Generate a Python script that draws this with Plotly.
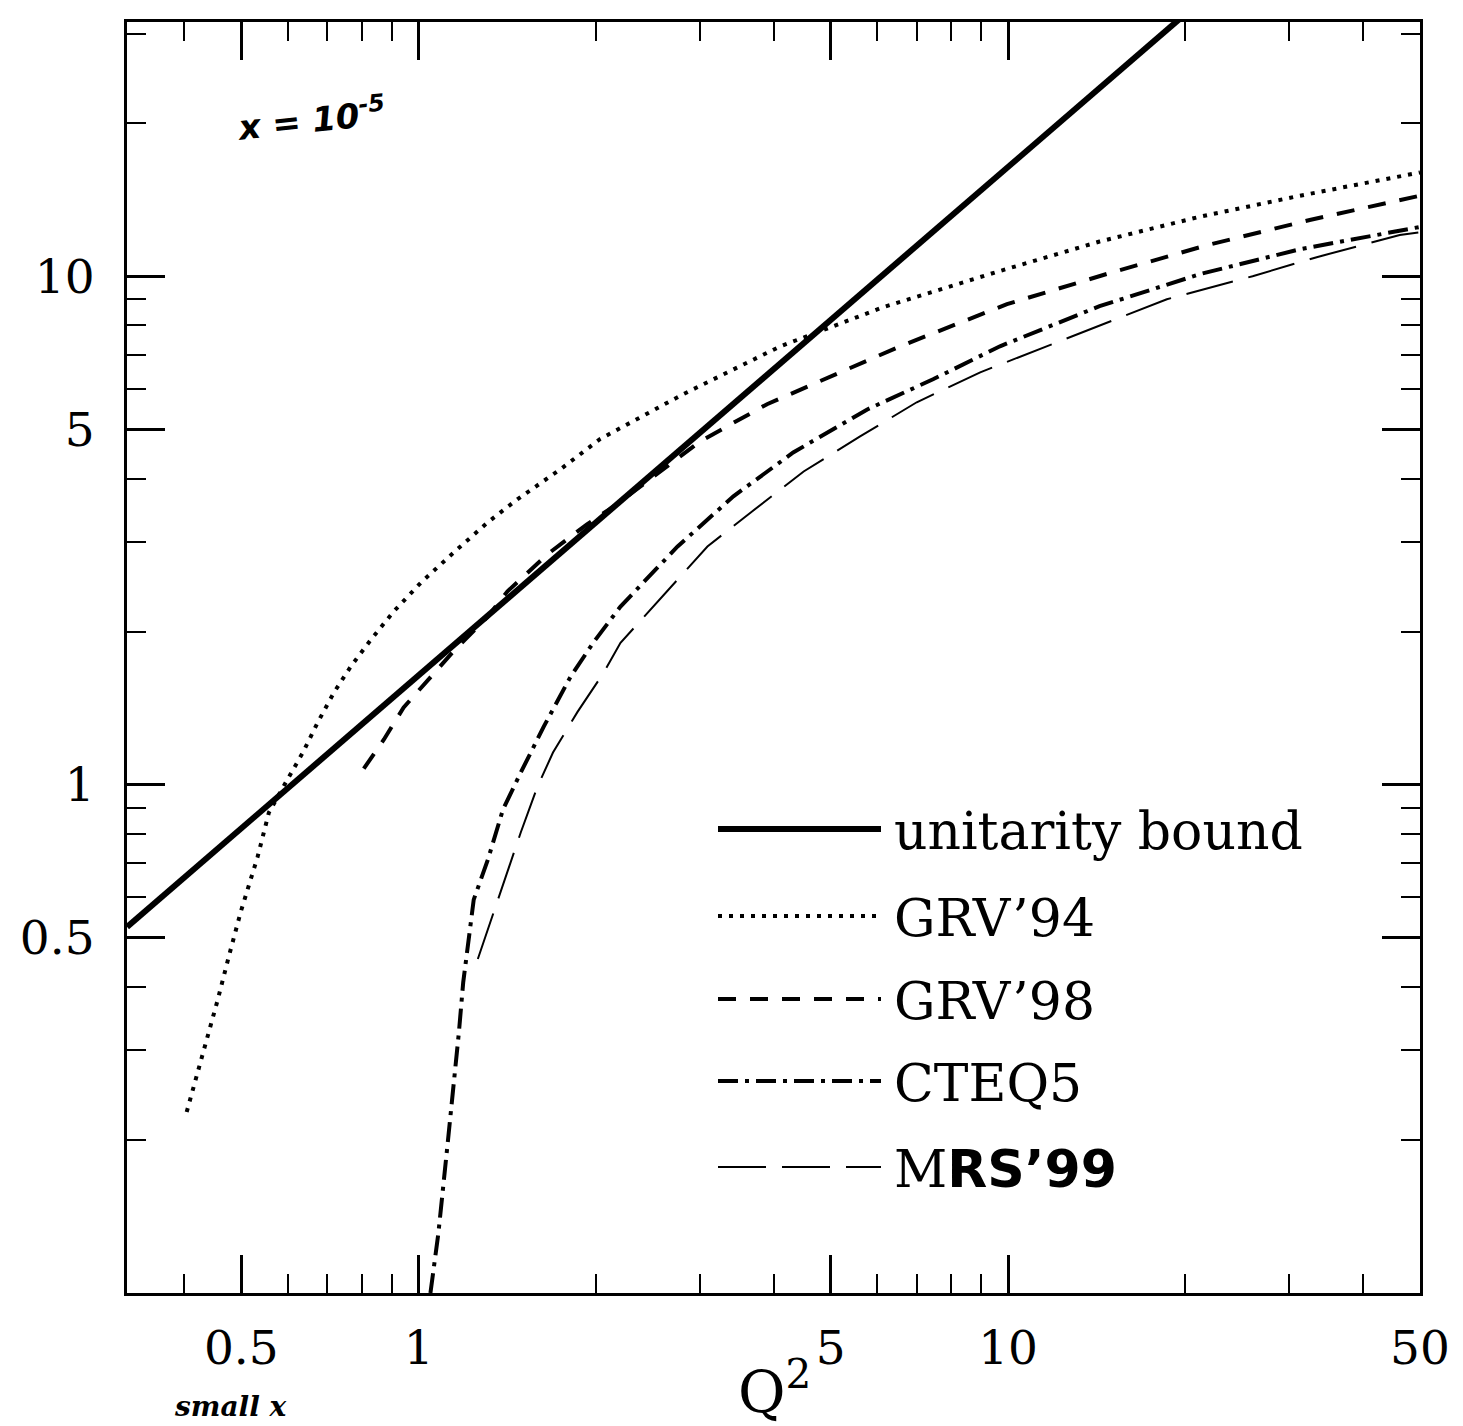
import plotly.graph_objects as go

# ---------------- data ----------------
unit_q2 = [0.32, 20.0]
unit_y = [0.525, 32.8]

grv94_q2 = [0.404, 0.43, 0.456, 0.476, 0.499, 0.533, 0.557, 0.595, 0.636, 0.674,
            0.718, 0.767, 0.83, 0.907, 1.01, 1.146, 1.31, 1.47, 1.74, 2.03, 2.81,
            4.11, 6.14, 9.58, 14.3, 21.2, 31.3, 50.0]
grv94_y = [0.227, 0.294, 0.377, 0.458, 0.562, 0.721, 0.881, 1.01, 1.156, 1.325,
           1.517, 1.707, 1.929, 2.19, 2.50, 2.86, 3.28, 3.64, 4.17, 4.78, 5.86,
           7.28, 8.69, 10.2, 11.7, 13.1, 14.4, 16.0]

grv98_q2 = [0.807, 0.873, 0.943, 1.048, 1.146, 1.31, 1.415, 1.655, 1.93, 2.17,
            3.0, 3.9, 5.19, 6.56, 9.96, 14.7, 21.7, 32.5, 50.0]
grv98_y = [1.075, 1.227, 1.418, 1.63, 1.83, 2.14, 2.40, 2.84, 3.25, 3.56,
           4.73, 5.6, 6.47, 7.28, 8.81, 10.1, 11.5, 12.9, 14.4]

cteq5_q2 = [1.047, 1.08, 1.12, 1.147, 1.17, 1.19, 1.216, 1.24, 1.31, 1.39, 1.49,
            1.63, 1.81, 1.98, 2.2, 2.75, 3.42, 4.32, 5.77, 7.46, 9.69, 14.3,
            21.2, 31.3, 50.0]
cteq5_y = [0.1, 0.131, 0.197, 0.255, 0.325, 0.408, 0.489, 0.594, 0.711, 0.893,
           1.056, 1.30, 1.63, 1.905, 2.24, 2.94, 3.69, 4.5, 5.47, 6.27, 7.28,
           8.73, 10.1, 11.3, 12.5]

mrs99_q2 = [1.26, 1.34, 1.49, 1.59, 1.69, 1.86, 2.06, 2.2, 3.09, 3.66, 4.5, 5.61,
            7.0, 8.97, 12.25, 18.6, 26.0, 33.4, 46.2, 50.0]
mrs99_y = [0.454, 0.56, 0.805, 0.99, 1.156, 1.39, 1.66, 1.90, 2.94, 3.43, 4.13,
           4.84, 5.65, 6.47, 7.45, 9.01, 10.0, 10.9, 12.05, 12.2]

x_major = [0.5, 1, 5, 10, 50]
x_major_text = ["0.5", "1", "5", "10", "50"]
x_minor = [0.4, 0.6, 0.7, 0.8, 0.9, 2, 3, 4, 6, 7, 8, 9, 20, 30, 40]
y_major = [0.5, 1, 5, 10]
y_major_text = ["0.5", "1", "5", "10"]
y_minor = [0.2, 0.3, 0.4, 0.6, 0.7, 0.8, 0.9, 2, 3, 4, 6, 7, 8, 9, 20, 30]

legend_names = ["unitarity bound", "GRV’94", "GRV’98", "CTEQ5",
                'M<span style="font-family:\'DejaVu Sans\';font-weight:bold">RS’99</span>']

# ---------------- styles ----------------
styles = [
    dict(width=6, dash="solid"),
    dict(width=4, dash="4px,7px"),
    dict(width=4, dash="18px,14px"),
    dict(width=4, dash="20px,7px,4px,7px"),
    dict(width=2, dash="48px,16px"),
]
series = [(unit_q2, unit_y), (grv94_q2, grv94_y), (grv98_q2, grv98_y),
          (cteq5_q2, cteq5_y), (mrs99_q2, mrs99_y)]

fig = go.Figure()
for (xs, ys), st, nm in zip(series, styles, legend_names):
    fig.add_trace(go.Scatter(x=xs, y=ys, mode="lines", name=nm, showlegend=False,
                             line=dict(color="black", width=st["width"], dash=st["dash"])))

OFF = 8  # page body margin
W, H = 1463 - OFF, 1426 - OFF
ml, mt = 127 - OFF, 22 - OFF
mr = W - (1420 - OFF)
mb = H - (1293 - OFF)
pw, ph = W - ml - mr, H - mt - mb

def px2paper(px, py):
    # page pixel -> paper coordinates
    return (px - OFF - ml) / pw, (H - mb - (py - OFF)) / ph

# legend drawn manually (long sample lines)
rows_py = [829, 916, 999, 1081, 1167]
shapes = []
annotations = []
for py, st, nm in zip(rows_py, styles, legend_names):
    x0, y0 = px2paper(718, py)
    x1, _ = px2paper(881, py)
    shapes.append(dict(type="line", xref="paper", yref="paper", x0=x0, x1=x1, y0=y0, y1=y0,
                       line=dict(color="black", width=st["width"], dash=st["dash"])))
    tx, ty = px2paper(892, py + 2)
    annotations.append(dict(xref="paper", yref="paper", x=tx, y=ty, text=nm, showarrow=False,
                            xanchor="left", yanchor="middle",
                            font=dict(family="DejaVu Serif", size=52, color="black")))

# axis title and handwritten notes
qx, qy = px2paper(736, 1388)
annotations.append(dict(xref="paper", yref="paper", x=qx, y=qy, text="Q<sup>2</sup>",
                        showarrow=False, xanchor="left", yanchor="middle",
                        font=dict(family="DejaVu Serif", size=58, color="black")))
hx, hy = px2paper(232, 118)
annotations.append(dict(xref="paper", yref="paper", x=hx, y=hy, text="<b><i>x = 10<sup>-5</sup></i></b>",
                        showarrow=False, xanchor="left", yanchor="middle", textangle=-6,
                        font=dict(family="DejaVu Sans", size=34, color="black")))
sx, sy = px2paper(172, 1425)
annotations.append(dict(xref="paper", yref="paper", x=sx, y=sy, text="<b><i>small x</i></b>",
                        showarrow=False, xanchor="left", yanchor="bottom",
                        font=dict(family="DejaVu Serif", size=28, color="black")))

axis_common = dict(type="log", showline=True, linecolor="black", linewidth=3, mirror="allticks",
                   ticks="inside", ticklen=38, tickwidth=2.5, tickcolor="black",
                   showgrid=False, zeroline=False,
                   tickfont=dict(family="DejaVu Serif", size=47, color="black"))

fig.update_layout(
    width=W, height=H,
    margin=dict(l=ml, r=mr, t=mt, b=mb),
    paper_bgcolor="white", plot_bgcolor="white",
    showlegend=False,
    shapes=shapes, annotations=annotations,
    xaxis=dict(**axis_common, range=[-0.4949, 1.699], tickmode="array",
               tickvals=x_major, ticktext=x_major_text, ticklabelstandoff=12,
               minor=dict(tickmode="array", tickvals=x_minor, ticks="inside", ticklen=19,
                          tickwidth=2, tickcolor="black", showgrid=False)),
    yaxis=dict(**axis_common, range=[-1, 1.5], tickmode="array",
               tickvals=y_major, ticktext=y_major_text, ticklabelstandoff=20,
               minor=dict(tickmode="array", tickvals=y_minor, ticks="inside", ticklen=19,
                          tickwidth=2, tickcolor="black", showgrid=False)),
)

fig.write_html("out.html")
